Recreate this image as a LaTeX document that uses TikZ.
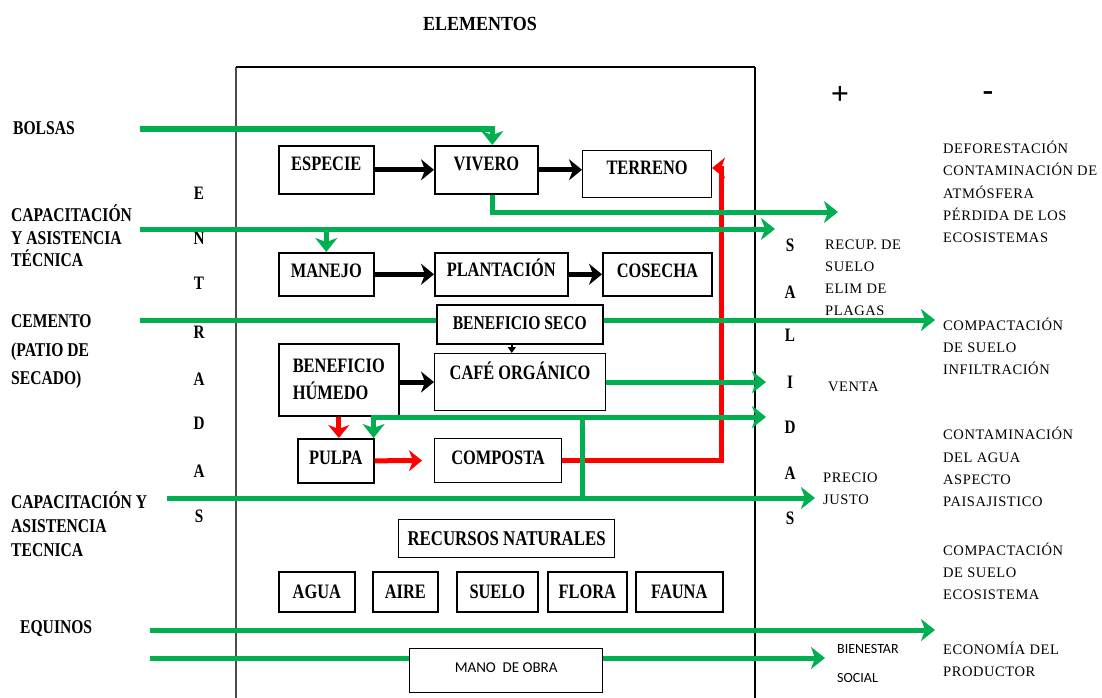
\documentclass[tikz,border=0pt]{standalone}
\usepackage{fontspec}
\setmainfont{Liberation Serif}
\newfontfamily\bfc{Liberation Serif}[FakeStretch=0.8]
\newfontfamily\bfd{Liberation Serif}[FakeStretch=0.9]
\newfontfamily\rfont{Liberation Serif}[LetterSpace=4]
\newfontfamily\carl{Carlito}
\usetikzlibrary{arrows.meta}
\definecolor{gr}{RGB}{0,176,80}
\definecolor{rd}{RGB}{255,0,0}
\tikzset{
  box/.style={draw, line width=1.6pt, inner sep=1pt, anchor=north west,
    font=\bfc\bfseries\fontsize{20.5}{24}\selectfont, text height=13pt, text depth=0pt},
  mbox/.style={draw, line width=1.6pt, inner sep=1pt, anchor=north west, align=left,
    font=\bfc\bfseries\fontsize{20.5}{27}\selectfont},
  lbl/.style={anchor=west, align=left, inner sep=0pt, font=\bfc\bfseries\fontsize{19.5}{22.5}\selectfont},
  vlet/.style={inner sep=0pt, font=\bfc\bfseries\fontsize{19}{22}\selectfont},
  rtxt/.style={anchor=west, align=left, inner sep=0pt, font=\rfont\fontsize{14.5}{22.3}\selectfont},
  ctxt/.style={anchor=west, align=left, inner sep=0pt, font=\carl\fontsize{14}{29}\selectfont},
  barrow/.style={draw=black, line width=5pt, -{Stealth[length=13pt,width=21pt,inset=4pt]}},
  rarrow/.style={draw=rd, line width=5pt, -{Stealth[length=13pt,width=21pt,inset=4pt]}},
  gline/.style={draw=gr, line width=5pt},
  garrow/.style={gline, -{Stealth[length=14pt,width=22pt,inset=4pt]}},
}
\begin{document}
\begin{tikzpicture}[x=1pt,y=-1pt]
\useasboundingbox (0,0) rectangle (1102,698);
% frame
\coordinate (fbl) at (236,698);
\coordinate (ftl) at (236,67);
\coordinate (ftr) at (755,67);
\coordinate (fbr) at (755,698);
\draw[gray!60!black, line width=1.3pt] (fbl) -- (ftl);
\draw[line width=1.3pt] (ftl) -- (ftr);
\draw[line width=2.5pt] (ftr) -- (fbr);

\node[font=\bfd\bfseries\fontsize{20}{22}\selectfont] (elem) at (480,24) {ELEMENTOS};
\node[font=\bfseries\fontsize{32}{32}\selectfont] (plus) at (840,95) {+};
\node[font=\bfseries\fontsize{32}{32}\selectfont] (minus) at (988,96) {-};

% left labels
\node[lbl] (l1) at (13,128) {BOLSAS};
\node[lbl] (l2) at (11,236) {CAPACITACIÓN\\Y ASISTENCIA\\TÉCNICA};
\node[lbl, font=\bfc\bfseries\fontsize{19.5}{28.5}\selectfont] (l3) at (11,352) {CEMENTO\\(PATIO DE\\SECADO)};
\node[lbl, font=\bfc\bfseries\fontsize{19.5}{24}\selectfont] (l4) at (11,524) {CAPACITACIÓN Y\\ASISTENCIA\\TECNICA};
\node[lbl] (l5) at (20,629) {EQUINOS};

% ENTRADAS / SALIDAS
\foreach \c/\y [count=\i] in {E/193,N/238,T/283,R/332,A/379,D/423,A/471,S/516}
  \node[vlet] (ent\i) at (199,\y) {\c};
\foreach \c/\y [count=\i] in {S/245,A/292,L/335,I/382,D/427,A/473,S/518}
  \node[vlet] (sal\i) at (790,\y) {\c};

% boxes
\node[box, minimum width=95pt, minimum height=48pt, text depth=12pt] (esp) at (278,145) {ESPECIE};
\node[box, minimum width=103pt, minimum height=48pt, text depth=12pt] (viv) at (434,145) {VIVERO};
\node[box, line width=1.1pt, minimum width=129pt, minimum height=47pt, text depth=13pt] (ter) at (582,150) {TERRENO};
\node[box, minimum width=95pt, minimum height=43pt, text depth=7pt] (man) at (278,252) {MANEJO};
\node[box, minimum width=133pt, minimum height=43pt, text depth=9pt] (pla) at (434,252) {PLANTACIÓN};
\node[box, minimum width=109pt, minimum height=43pt, text depth=7pt] (cos) at (602,252) {COSECHA};
\node[box, minimum width=166pt, minimum height=39pt, text depth=3pt, font=\bfc\bfseries\fontsize{19.5}{22}\selectfont] (bseco) at (436,304) {BENEFICIO SECO};
\node[mbox, minimum width=120pt, minimum height=72pt] (bhum) at (278,343) {BENEFICIO\\HÚMEDO};
\node[box, line width=1.1pt, minimum width=171pt, minimum height=57pt, text depth=18pt] (cafe) at (434,353) {CAFÉ ORGÁNICO\hspace{14pt}};
\node[box, minimum width=76pt, minimum height=44pt, text depth=6pt] (pulpa) at (297,438) {PULPA};
\node[box, line width=1.1pt, minimum width=127pt, minimum height=44pt, text depth=6pt] (comp) at (434,438) {COMPOSTA\hspace{12pt}};
\node[box, line width=1.2pt, minimum width=216pt, minimum height=38pt, font=\bfc\bfseries\fontsize{21}{24}\selectfont] (recn) at (398,519) {RECURSOS NATURALES};
\node[box, minimum width=76pt, minimum height=40pt] (agua) at (278,571) {AGUA};
\node[box, minimum width=65pt, minimum height=40pt] (aire) at (372,571) {AIRE};
\node[box, minimum width=81pt, minimum height=40pt] (suelo) at (456,571) {SUELO};
\node[box, minimum width=79pt, minimum height=40pt] (flora) at (547,571) {FLORA};
\node[box, minimum width=87pt, minimum height=40pt] (fauna) at (635,571) {FAUNA};
\node[box, line width=1.3pt, minimum width=193pt, minimum height=44pt, font=\carl\fontsize{15}{18}\selectfont, text height=10pt, text depth=6pt] (mano) at (409,648) {MANO~ DE OBRA};

% right texts
\node[rtxt] (o1) at (943,192) {DEFORESTACIÓN\\CONTAMINACIÓN DE\\ATMÓSFERA\\PÉRDIDA DE LOS\\ECOSISTEMAS};
\node[rtxt, font=\rfont\fontsize{14.5}{22}\selectfont] (o2) at (825,278) {RECUP. DE\\SUELO\\ELIM DE\\PLAGAS};
\node[rtxt, font=\rfont\fontsize{14.5}{22}\selectfont] (o3) at (943,346) {COMPACTACIÓN\\DE SUELO\\INFILTRACIÓN};
\node[rtxt] (o4) at (828,387) {VENTA};
\node[rtxt] (o5) at (943,467) {CONTAMINACIÓN\\DEL AGUA\\ASPECTO\\PAISAJISTICO};
\node[rtxt, font=\rfont\fontsize{14.5}{22}\selectfont] (o6) at (823,489) {PRECIO\\JUSTO};
\node[rtxt, font=\rfont\fontsize{14.5}{22}\selectfont] (o7) at (943,571) {COMPACTACIÓN\\DE SUELO\\ECOSISTEMA};
\node[rtxt, font=\rfont\fontsize{14.5}{22}\selectfont] (o8) at (943,659) {ECONOMÍA DEL\\PRODUCTOR};
\node[ctxt] (o9) at (837,663) {BIENESTAR\\SOCIAL};

% black arrows
\draw[barrow] (esp.east) -- (viv.west);
\draw[barrow] (viv.east) -- (viv.east -| ter.west);
\draw[barrow] (man.east) -- (pla.west);
\draw[barrow] (pla.east) -- (cos.west);
\draw[barrow] (bhum.east |- cafe.west) -- (cafe.west);
\draw[line width=1.5pt, -{Triangle[length=6pt,width=8pt]}] ([xshift=-8pt]bseco.south) -- ([xshift=-8pt]bseco.south |- cafe.north);

% red arrows
\coordinate (rc) at (721,168);
\draw[rarrow] (comp.east) -| (rc) -- (rc -| ter.east);
\draw[rarrow, shorten >=12pt] (pulpa.east) -- (comp.west);
\draw[rarrow] (bhum.south) -- (bhum.south |- pulpa.north);

% green connectors
\coordinate (bol) at (140,129);
\coordinate (vivS) at (838,212);
\coordinate (cap1) at (140,229);
\coordinate (cap1e) at (775,229);
\coordinate (cem) at (140,320);
\coordinate (cemE) at (935,320);
\coordinate (ventaA) at (766,381);
\coordinate (j1) at (582,417);
\coordinate (j2) at (582,498);
\coordinate (dA) at (766,417);
\coordinate (capY) at (167,498);
\coordinate (precioA) at (815,498);
\coordinate (eq) at (150,630);
\coordinate (eqE) at (935,630);
\coordinate (mo) at (150,658);
\coordinate (bienA) at (825,658);

\draw[garrow] (bol) -| ([xshift=6pt]viv.north);
\draw[garrow] ([xshift=6pt]viv.south) |- (vivS);
\draw[garrow] (cap1) -- (cap1e);
\draw[garrow] (man.north |- cap1) -- (man.north);
\draw[gline] (cem) -- (cem -| bseco.west);
\draw[garrow] (cem -| bseco.east) -- (cemE);
\draw[garrow] (cafe.east) -- (ventaA |- cafe.east);
\draw[garrow] (j2) -- (j1) -| ([xshift=-1pt]pulpa.north east);
\draw[garrow] (j1) -- (dA);
\draw[garrow] (capY) -- (precioA);
\draw[garrow] (eq) -- (eqE);
\draw[gline] (mo) -- (mo -| mano.west);
\draw[garrow] (mano.east |- mo) -- (bienA);
\end{tikzpicture}
\end{document}
